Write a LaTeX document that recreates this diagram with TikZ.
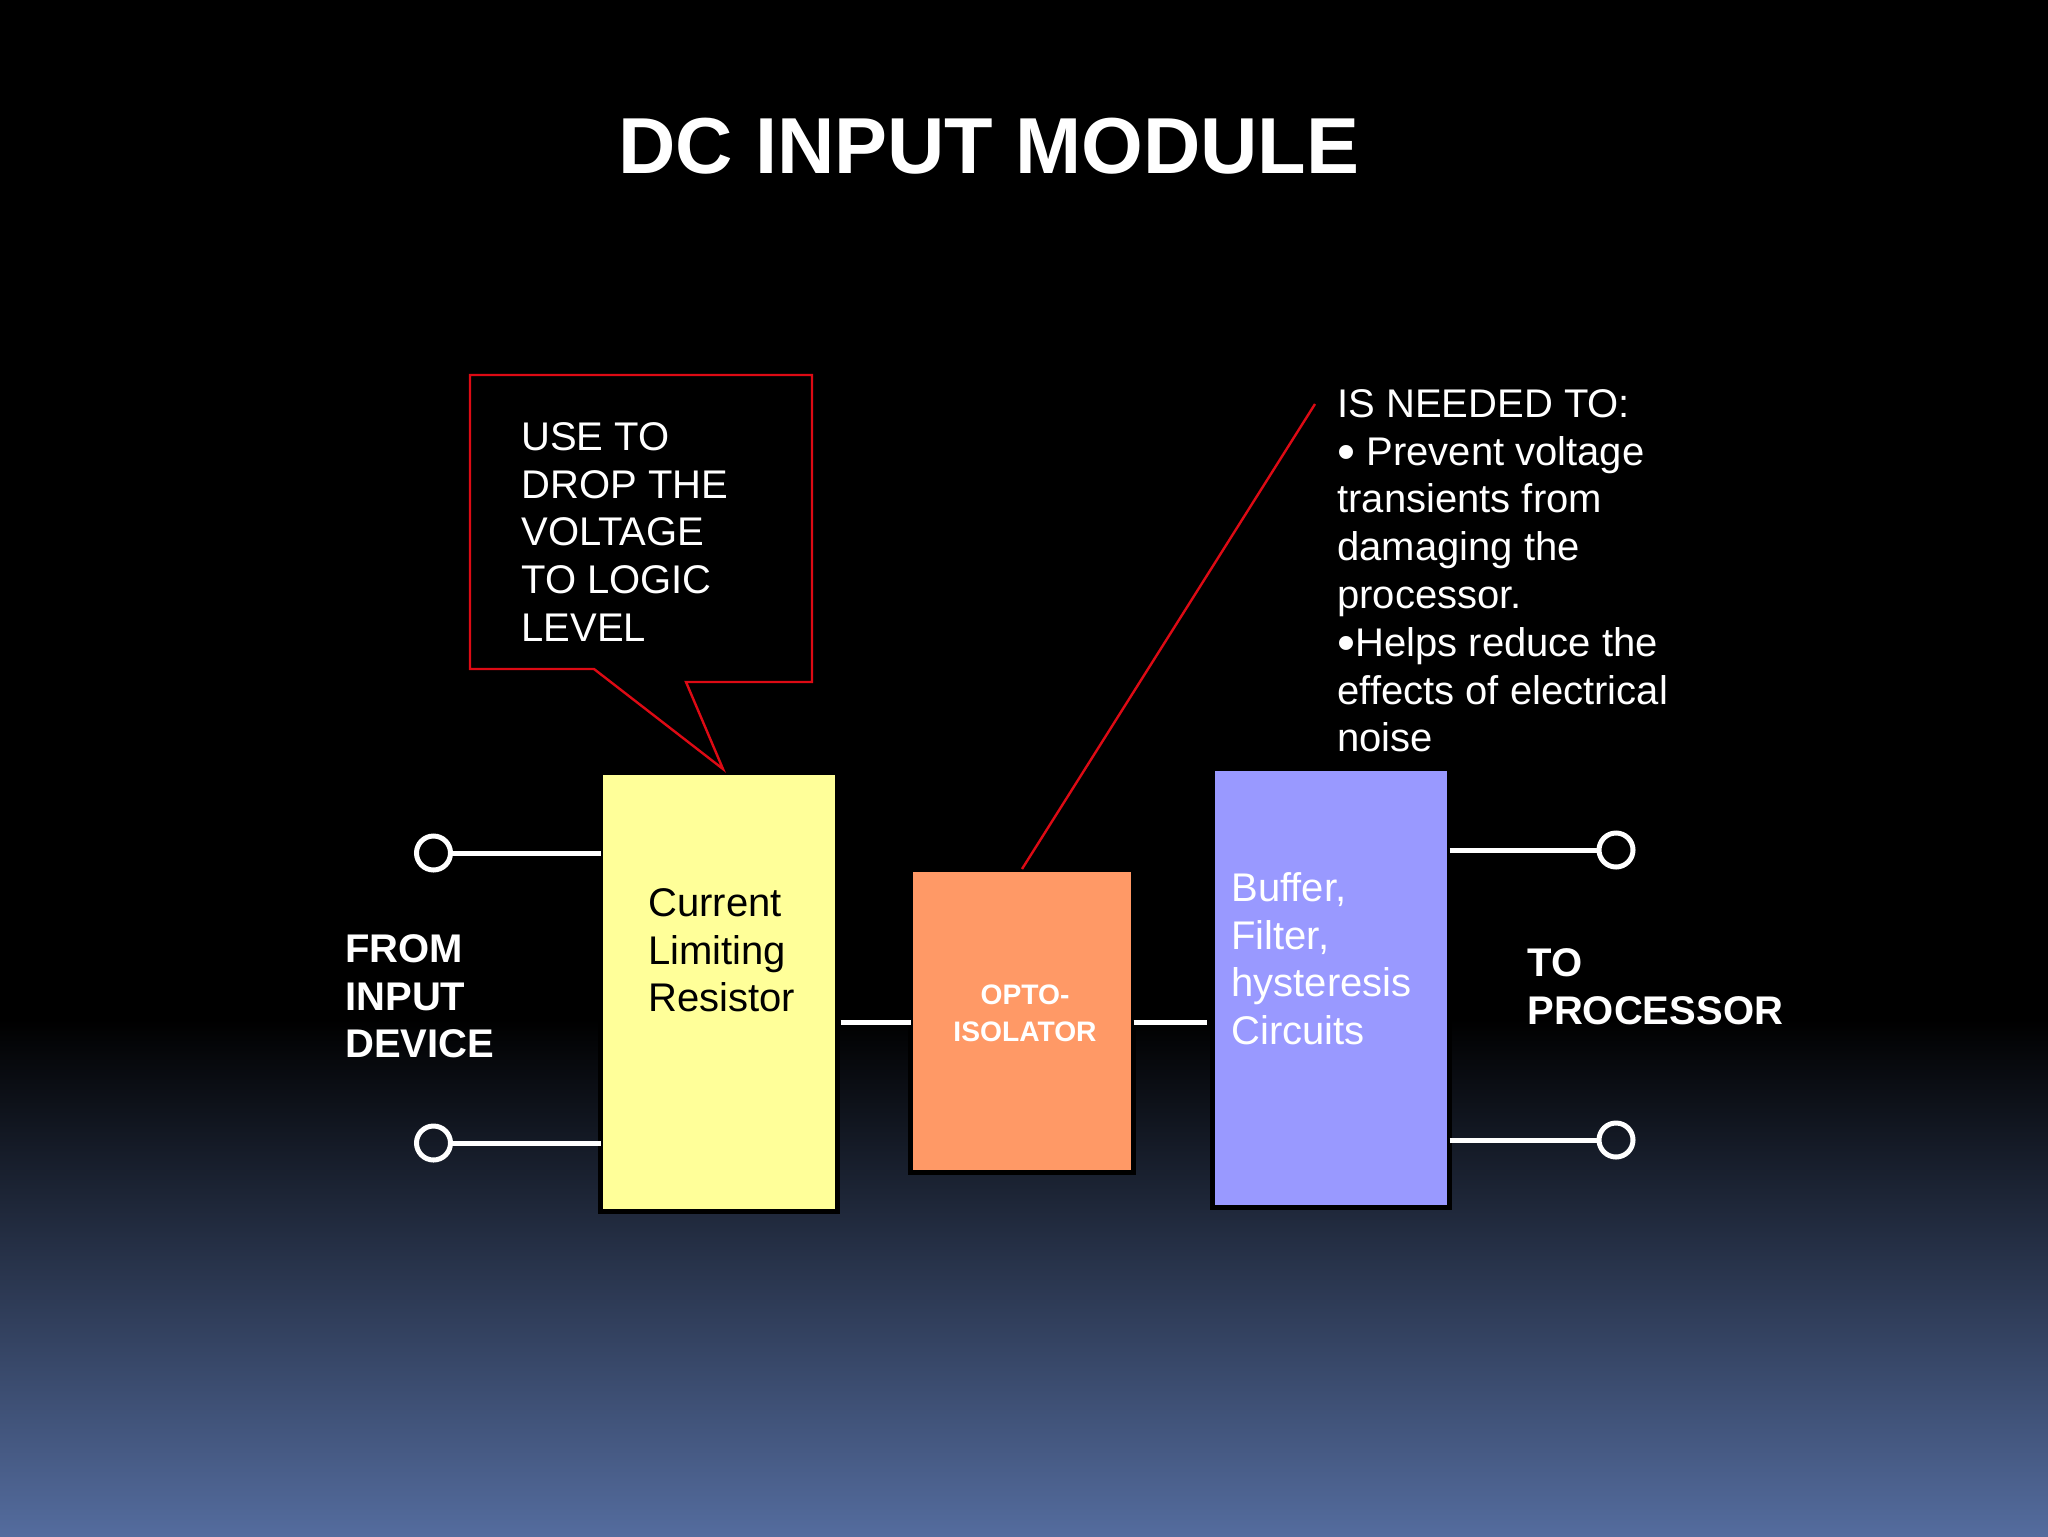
\documentclass[tikz,border=0pt]{standalone}
\usepackage{fontspec}
\setmainfont{Liberation Sans}
\usetikzlibrary{positioning}
\definecolor{resistorfill}{HTML}{FFFF99}
\definecolor{optofill}{HTML}{FF9966}
\definecolor{bufferfill}{HTML}{9999FF}
\definecolor{calloutred}{HTML}{DD0A14}
\definecolor{slidebottom}{HTML}{546C9E}
\newcommand{\bigdot}{\raisebox{-2.1pt}{\fontsize{25.7}{23.9}\selectfont •}}
\tikzset{
  block/.style={draw=black, line width=2.5pt, outer sep=0pt, inner sep=0pt},
  terminal/.style={circle, draw=white, line width=2.5pt, minimum size=17pt, inner sep=0pt, outer sep=0pt},
  wire/.style={draw=white, line width=2.5pt},
  bodytext/.style={anchor=north west, align=left, inner sep=0pt, font=\fontsize{20}{23.9}\selectfont},
  boldtext/.style={bodytext, text=white, font=\fontsize{20}{23.9}\selectfont\bfseries}
}
\begin{document}
\begin{tikzpicture}[x=0.5pt, y=-0.5pt]
    \fill[black] (0,0) rectangle (2048,1536);
    \shade[top color=black, bottom color=slidebottom] (0,1019) rectangle (2048,1536);

    \node[text=white, font=\fontsize{39.7}{48}\selectfont\bfseries] (title) at (989,146) {DC INPUT MODULE};

    \node[block, fill=resistorfill, minimum width=118.5pt, minimum height=219.5pt] (resistor) at (719,992) {};
    \node[block, fill=optofill, minimum width=111.5pt, minimum height=151.5pt] (opto) at (1022,1020.5) {};
    \node[block, fill=bufferfill, minimum width=118.5pt, minimum height=219.5pt] (buffer) at (1331,988) {};

    \node[bodytext] (resistortext) at (648,888) {Current\\Limiting\\Resistor};
    \node[bodytext, text=white] (buffertext) at (1231,872) {Buffer,\\Filter,\\hysteresis\\Circuits};
    \node[text=white, align=center, inner sep=0pt, font=\fontsize{14.1}{18.6}\selectfont\bfseries] (optotext) at (1025,1013) {OPTO-\\ISOLATOR};

    \node[terminal] (in1) at (433.5,853) {};
    \node[terminal, below=128pt of in1] (in2) {};
    \node[terminal] (out1) at (1616,850) {};
    \node[terminal, below=128pt of out1] (out2) {};

    \draw[wire] (in1) -- (in1 -| resistor.west);
    \draw[wire] (in2) -- (in2 -| resistor.west);
    \draw[wire] (out1 -| buffer.east) -- (out1);
    \draw[wire] (out2 -| buffer.east) -- (out2);
    \draw[wire, shorten <=1.5pt] (resistor.east |- 0,1022) -- (opto.west |- 0,1022);
    \draw[wire, shorten >=3pt] (opto.east |- 0,1022) -- (buffer.west |- 0,1022);

    \node[boldtext] (fromtext) at (345,934) {FROM\\INPUT\\DEVICE};
    \node[boldtext] (totext) at (1527,948) {TO\\PROCESSOR};

    % callout over the resistor
    \draw[calloutred, line width=1.2pt] (470,375) -- (812,375) -- (812,682) -- (686,682) -- (723,769) -- (594,669) -- (470,669) -- cycle;
    \node[bodytext, text=white] (callouttext) at (521,422) {USE TO\\DROP THE\\VOLTAGE\\TO LOGIC\\LEVEL};

    \coordinate (needed) at (1315,404);
    \draw[calloutred, line width=1.2pt] (opto.north) -- (needed);
    \node[bodytext, text=white] (neededtext) at (1337,389) {IS NEEDED TO:\\\bigdot{} Prevent voltage\\transients from\\damaging the\\processor.\\\bigdot{}Helps reduce the\\effects of electrical\\noise};
\end{tikzpicture}
\end{document}
